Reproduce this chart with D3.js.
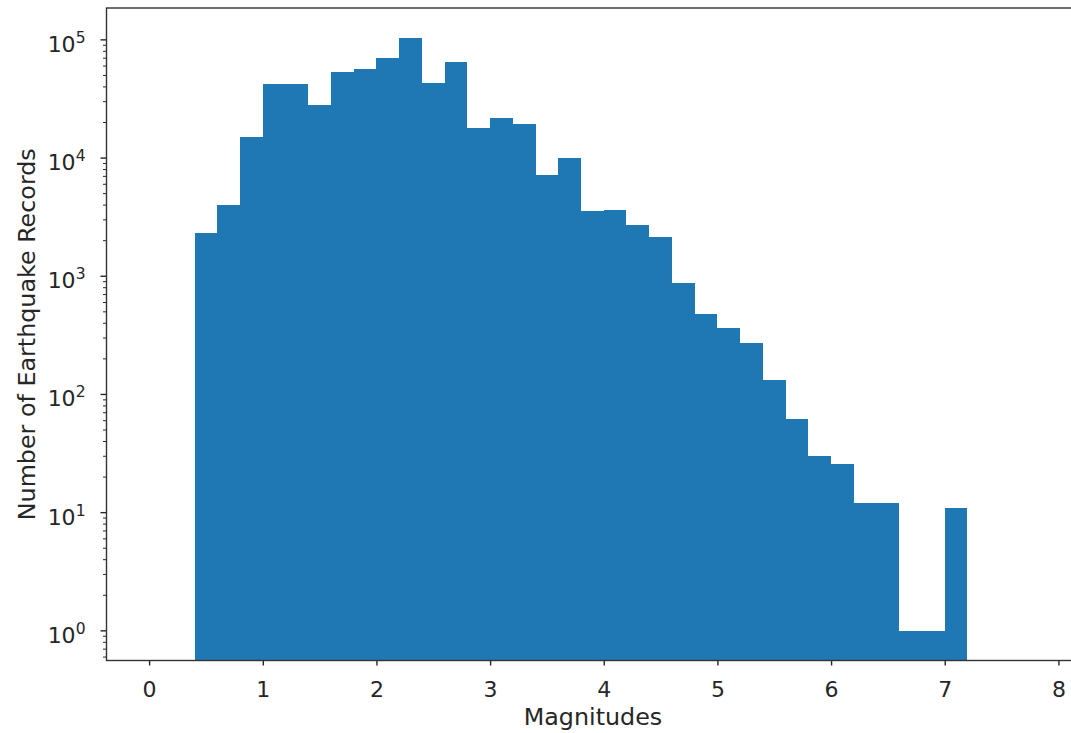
<!DOCTYPE html>
<html>
<head>
<meta charset="utf-8">
<script src="https://cdn.jsdelivr.net/npm/d3@7"></script>
<style>
  html, body { margin: 0; padding: 0; background: #fff; }
  svg { display: block; font-family: "DejaVu Sans", sans-serif; }
</style>
</head>
<body>
<svg id="chart" width="1071" height="733"></svg>
<script>
// Histogram of earthquake magnitudes (bin width 0.2), counts on a log scale
const binEdges = [0.4, 0.6, 0.8, 1.0, 1.2, 1.4, 1.6, 1.8, 2.0, 2.2, 2.4, 2.6, 2.8,
                  3.0, 3.2, 3.4, 3.6, 3.8, 4.0, 4.2, 4.4, 4.6, 4.8, 5.0, 5.2, 5.4,
                  5.6, 5.8, 6.0, 6.2, 6.4, 6.6, 6.8, 7.0, 7.2];
const counts = [2330, 4000, 15000, 42300, 42300, 28300, 53400, 56600, 70200, 104400,
                43100, 64500, 18100, 22000, 19600, 7160, 10000, 3600, 3670, 2740,
                2160, 875, 475, 364, 270, 132, 62, 30, 26, 12,
                12, 1, 1, 11];
const xTicks = [0, 1, 2, 3, 4, 5, 6, 7, 8];
const yTickExponents = [0, 1, 2, 3, 4, 5];
const xLabel = "Magnitudes";
const yLabel = "Number of Earthquake Records";

const plot = { left: 106.5, top: 8, right: 1080, bottom: 660.5 };
const barColor = "#1f77b4";
const ink = "#262626";
const tickFont = 22;
const labelFont = 23.8;

const svg = d3.select("#chart");

const x = d3.scaleLinear()
  .domain([-0.375, 8.19])
  .range([plot.left, plot.right]);

// log domain padded by 5% of the data span in log space
const lo = 0, hi = Math.log10(d3.max(counts));
const pad = 0.05 * (hi - lo);
const y = d3.scaleLog()
  .domain([Math.pow(10, lo - pad), Math.pow(10, hi + pad)])
  .range([plot.bottom, plot.top]);

const bins = counts.map((c, i) => ({ x0: binEdges[i], x1: binEdges[i + 1], count: c }));

// bars, snapped to whole pixels so neighbours meet without seams
svg.append("g")
  .attr("shape-rendering", "crispEdges")
  .selectAll("rect")
  .data(bins)
  .join("rect")
  .attr("x", d => x(d.x0))
  .attr("width", d => x(d.x1) - x(d.x0))
  .attr("y", d => y(d.count))
  .attr("height", d => plot.bottom - y(d.count))
  .attr("fill", barColor);

// x axis
const xAxis = d3.axisBottom(x)
  .tickValues(xTicks)
  .tickFormat(d3.format("d"))
  .tickSize(5)
  .tickPadding(8);
const gx = svg.append("g")
  .attr("transform", `translate(0,${plot.bottom})`)
  .call(xAxis);
gx.select(".domain").remove();
gx.selectAll(".tick line").attr("stroke", ink).attr("stroke-width", 1.4);
gx.selectAll(".tick text")
  .attr("fill", ink)
  .attr("font-size", tickFont)
  .attr("font-family", "DejaVu Sans")
  .attr("dy", null)
  .attr("y", 36.5);

// y axis: major ticks at decades, minor ticks at 2..9 of each decade
const [yMin, yMax] = y.domain();
const minorTicks = [];
for (let e = Math.floor(Math.log10(yMin)); e <= Math.ceil(Math.log10(yMax)); e++) {
  for (let m = 2; m <= 9; m++) {
    const v = m * Math.pow(10, e);
    if (v >= yMin && v <= yMax) minorTicks.push(v);
  }
}
const gy = svg.append("g").attr("transform", `translate(${plot.left},0)`);
gy.selectAll("line.minor")
  .data(minorTicks)
  .join("line")
  .attr("class", "minor")
  .attr("x1", -3.5).attr("x2", 0)
  .attr("y1", d => y(d)).attr("y2", d => y(d))
  .attr("stroke", ink).attr("stroke-width", 1);
const majors = yTickExponents.map(e => ({ e, v: Math.pow(10, e) }));
gy.selectAll("line.major")
  .data(majors)
  .join("line")
  .attr("class", "major")
  .attr("x1", -6).attr("x2", 0)
  .attr("y1", d => y(d.v)).attr("y2", d => y(d.v))
  .attr("stroke", ink).attr("stroke-width", 1.4);
const yt = gy.selectAll("text.ylab")
  .data(majors)
  .join("text")
  .attr("class", "ylab")
  .attr("text-anchor", "end")
  .attr("x", -21)
  .attr("y", d => y(d.v) + 12)
  .attr("fill", ink)
  .attr("font-size", tickFont);
yt.append("tspan").text("10");
yt.append("tspan")
  .attr("dy", -9)
  .attr("font-size", 15.5)
  .text(d => d.e);

// frame
svg.append("rect")
  .attr("x", plot.left).attr("y", plot.top)
  .attr("width", plot.right - plot.left)
  .attr("height", plot.bottom - plot.top)
  .attr("fill", "none")
  .attr("stroke", "#333")
  .attr("stroke-width", 1.4);

// axis titles
svg.append("text")
  .attr("x", 593).attr("y", 725)
  .attr("text-anchor", "middle")
  .attr("fill", ink)
  .attr("font-size", labelFont)
  .text(xLabel);

svg.append("text")
  .attr("transform", `translate(35,${(plot.top + plot.bottom) / 2}) rotate(-90)`)
  .attr("text-anchor", "middle")
  .attr("fill", ink)
  .attr("font-size", labelFont)
  .text(yLabel);
</script>
</body>
</html>
